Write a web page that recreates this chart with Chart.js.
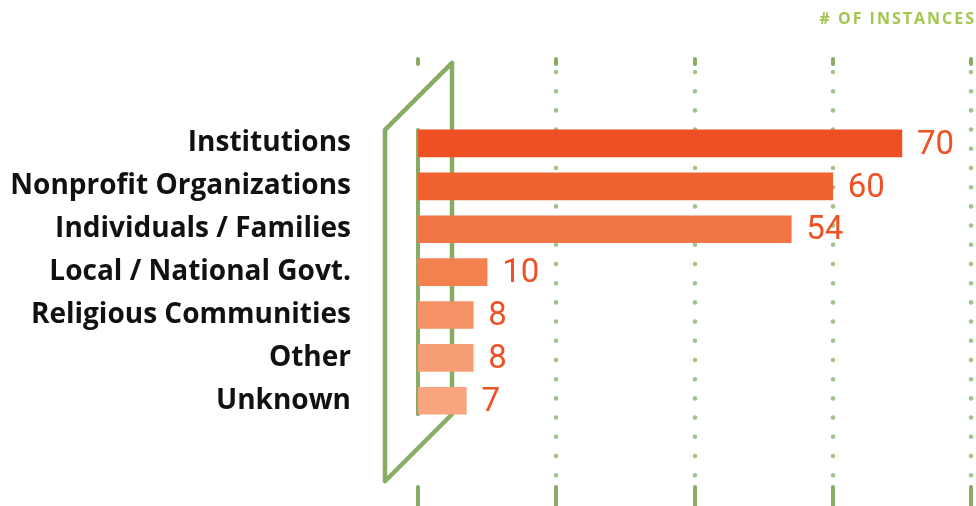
<!DOCTYPE html>
<html>
<head>
<meta charset="utf-8">
<script src="https://cdn.jsdelivr.net/npm/chart.js@4/dist/chart.umd.min.js"></script>
<style>
  html, body { margin: 0; padding: 0; background: #fff; }
  #wrap { width: 976px; height: 506px; }
</style>
</head>
<body>
<div id="wrap"><canvas id="instChart" width="976" height="506"></canvas></div>
<script>
const categories = [
  "Institutions",
  "Nonprofit Organizations",
  "Individuals / Families",
  "Local / National Govt.",
  "Religious Communities",
  "Other",
  "Unknown"
];
const instances = [70, 60, 54, 10, 8, 8, 7];
const barColors = ["#ef5023", "#f06230", "#f27545", "#f38150", "#f59265", "#f79e76", "#f9a57f"];
const gridValues = [0, 20, 40, 60, 80];
const axisTitle = "# OF INSTANCES";

const green = "#87ad65";

// dotted grid lines + the slanted frame behind the bars
const decoPlugin = {
  id: "deco",
  beforeDatasetsDraw(chart) {
    const ctx = chart.ctx;
    const x = chart.scales.x;
    const meta = chart.getDatasetMeta(0);
    const firstBar = meta.data[0];
    const lastBar = meta.data[meta.data.length - 1];
    const barTop = firstBar.y - firstBar.height / 2;
    const barBottom = lastBar.y + lastBar.height / 2;
    const h = chart.height;

    ctx.save();
    ctx.fillStyle = green;
    ctx.strokeStyle = green;
    ctx.lineCap = "round";

    gridValues.forEach((v) => {
      const px = Math.round(x.getPixelForValue(v));
      // top + bottom ticks
      ctx.lineWidth = 4;
      ctx.beginPath();
      ctx.moveTo(px, 59);
      ctx.lineTo(px, 64);
      ctx.stroke();
      ctx.beginPath();
      ctx.moveTo(px, 487);
      ctx.lineTo(px, h + 4);
      ctx.stroke();
      if (v === 0) {
        ctx.beginPath();
        ctx.moveTo(px, barTop);
        ctx.lineTo(px, barBottom);
        ctx.stroke();
      } else {
        ctx.globalAlpha = 0.75;
        for (let yy = 72; yy < 484; yy += 19.2) {
          ctx.beginPath();
          ctx.arc(px, yy, 2.3, 0, Math.PI * 2);
          ctx.fill();
        }
        ctx.globalAlpha = 1;
      }
    });

    // parallelogram frame
    const x0 = x.getPixelForValue(0);
    const left = x0 - 33;
    const right = x0 + 34;
    const slant = right - left;
    ctx.lineWidth = 4.5;
    ctx.lineJoin = "round";
    ctx.beginPath();
    ctx.moveTo(left, barTop);
    ctx.lineTo(right, barTop - slant);
    ctx.lineTo(right, barBottom);
    ctx.lineTo(left, barBottom + slant);
    ctx.closePath();
    ctx.stroke();
    ctx.restore();
  },
  afterDatasetsDraw(chart) {
    const ctx = chart.ctx;
    const meta = chart.getDatasetMeta(0);
    ctx.save();
    ctx.fillStyle = "#ee5124";
    ctx.font = "400 33px Roboto";
    ctx.textBaseline = "middle";
    meta.data.forEach((bar, i) => {
      ctx.fillText(instances[i], bar.x + 15, bar.y + 2);
    });

    // axis title, top right
    ctx.fillStyle = "#a3c64f";
    ctx.font = "bold 16px 'Open Sans'";
    ctx.letterSpacing = "2px";
    ctx.textAlign = "right";
    ctx.textBaseline = "alphabetic";
    ctx.fillText(axisTitle, chart.width, 24);
    ctx.restore();
  }
};

new Chart(document.getElementById("instChart"), {
  type: "bar",
  data: {
    labels: categories,
    datasets: [{
      data: instances,
      backgroundColor: barColors,
      barThickness: 27,
      borderWidth: 0
    }]
  },
  options: {
    indexAxis: "y",
    responsive: false,
    animation: false,
    layout: { padding: { top: 122, bottom: 79, right: 5, left: 0 } },
    plugins: {
      legend: { display: false },
      tooltip: { enabled: false }
    },
    scales: {
      x: {
        min: 0,
        max: 80,
        display: false
      },
      y: {
        grid: { display: false, drawTicks: false },
        border: { display: false },
        ticks: {
          color: "#111",
          padding: 67,
          font: { family: "'Open Sans'", weight: "bold", size: 28 }
        },
        afterFit(scale) {
          scale.width = 418;
        }
      }
    }
  },
  plugins: [decoPlugin]
});
</script>
</body>
</html>
